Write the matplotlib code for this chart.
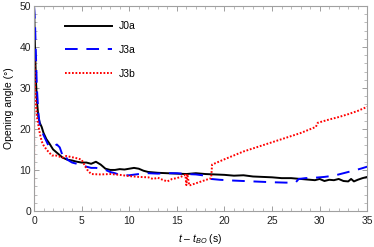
import numpy as np
import matplotlib
matplotlib.use('Agg')
import matplotlib.pyplot as plt
from matplotlib.ticker import MultipleLocator

# J0a (black, solid)
t_j0a = [0, 0.1, 0.2, 0.3, 0.45, 0.6, 0.8, 1.0, 1.3, 1.6,
         2.0, 2.5, 3.0, 3.5, 4.0, 4.5, 5.0, 5.5, 6.0, 6.5,
         7.0, 7.5, 8.0, 8.5, 9.0, 9.5, 10.0, 10.5, 11.0, 11.5,
         12, 13, 14, 15, 16, 17, 18, 19, 20, 21,
         22, 23, 24, 25, 26, 27, 28, 29, 29.5, 30,
         30.5, 31, 31.5, 32, 32.5, 33, 33.3, 33.6, 34, 34.5, 35]
v_j0a = [50, 40, 32, 27, 23, 21.5, 20.5, 19, 17.5, 16.5,
         15, 14, 13, 12.5, 12.3, 12.0, 11.8, 11.8, 11.5, 12.0,
         11.3, 10.3, 10.0, 10.0, 10.2, 10.1, 10.3, 10.5, 10.3, 9.8,
         9.5, 9.3, 9.2, 9.1, 9.0, 9.2, 9.0, 8.9, 8.8, 8.6,
         8.7, 8.4, 8.3, 8.2, 8.0, 8.0, 7.8, 7.6, 7.5, 7.8,
         7.3, 7.6, 7.5, 7.8, 7.3, 7.2, 7.8, 7.2, 7.6, 8.0, 8.3]

# J3a (blue, dashed)
t_j3a = [0, 0.1, 0.2, 0.3, 0.45, 0.6, 0.9, 1.2, 1.5, 1.8,
         2.1, 2.4, 2.7, 3.0, 3.2, 3.5, 4.0, 4.5, 5.0, 5.5,
         6.0, 6.5, 7.0, 7.5, 8.0, 8.5, 9.0, 9.5, 10, 11,
         12, 13, 14, 15, 16, 17, 18, 18.6, 19.5, 21,
         23, 25, 26.5, 27.5, 27.8, 28.5, 29.5, 30.5, 31.5, 32.5,
         33.5, 34.3, 35]
v_j3a = [50, 46, 38, 30, 24, 21, 19, 17.5, 16, 15.5,
         15.8, 16.2, 15.5, 13.5, 14.0, 12.5, 11.8, 11.5, 11.0, 10.8,
         10.5, 10.5, 10.3, 10.0, 9.5, 9.2, 8.8, 8.7, 8.7, 9.0,
         9.2, 9.1, 9.2, 9.2, 9.0, 8.9, 8.6, 7.8, 7.6, 7.4,
         7.2, 7.0, 6.9, 7.0, 7.8, 8.0, 8.1, 8.3, 8.6, 9.2,
         9.8, 10.3, 10.8]

# J3b (red, dotted)
t_j3b = [0, 0.02, 0.1, 0.2, 0.3, 0.45, 0.6, 0.8, 1.0, 1.3,
         1.6, 1.9, 2.2, 2.6, 3.0, 3.4, 3.8, 4.2, 4.6, 5.0,
         5.3, 5.6, 6, 7, 8, 9, 10, 11, 12, 12.5,
         13, 13.5, 14, 14.5, 15, 15.5, 15.9, 16.0, 16.1, 16.3,
         18.6, 18.7, 20, 22, 24, 26, 28, 29.6, 29.8, 31,
         32, 33, 34, 35]
v_j3b = [0, 37, 30, 26, 23, 21, 19, 17, 16, 15,
         14.2, 13.5, 13.6, 13.3, 13.0, 13.4, 13.2, 13.0, 12.8, 12.5,
         11.2, 10.0, 9.0, 8.9, 9.0, 8.8, 8.5, 8.3, 8.2, 7.8,
         8.1, 7.6, 7.2, 7.8, 8.0, 8.4, 8.8, 6.3, 9.0, 6.2,
         8.0, 11.3, 12.6, 14.5, 16.0, 17.5, 19.0, 20.5, 21.5, 22.3,
         22.9, 23.6, 24.4, 25.4]

plt.rcParams['font.family'] = ['Liberation Sans', 'DejaVu Sans']
plt.rcParams['mathtext.fontset'] = 'custom'
plt.rcParams['mathtext.it'] = 'Liberation Sans:italic'
plt.rcParams['mathtext.rm'] = 'Liberation Sans'

fig = plt.figure(figsize=(3.74, 2.47), dpi=100)
ax = fig.add_axes([0.091, 0.146, 0.891, 0.830])

ax.plot(t_j0a, v_j0a, color='black', lw=1.4, label='J0a')
ax.plot(t_j3a, v_j3a, color='#0000ff', lw=1.4, dashes=(6.5, 4.5), label='J3a')
ax.plot(t_j3b, v_j3b, color='#ff0000', lw=1.4, dashes=(0.9, 0.9), label='J3b')

ax.set_xlim(0, 35)
ax.set_ylim(0, 50)
ax.xaxis.set_major_locator(MultipleLocator(5))
ax.xaxis.set_minor_locator(MultipleLocator(1))
ax.yaxis.set_major_locator(MultipleLocator(10))
ax.yaxis.set_minor_locator(MultipleLocator(2))

gray = '#a0a0a0'
for s in ax.spines.values():
    s.set_color(gray)
    s.set_linewidth(0.8)
ax.tick_params(which='both', direction='in', top=True, right=True,
               color=gray, labelsize=7.5, labelcolor='#222222')
ax.tick_params(axis='x', pad=3.5)
ax.tick_params(axis='y', pad=2)
ax.tick_params(which='major', length=3.5, width=0.7)
ax.tick_params(which='minor', length=2, width=0.5)

ax.set_xlabel(r'$t$ – $t_{BO}$ (s)', fontsize=7.5, labelpad=4.5)
ax.set_ylabel('Opening angle (°)', fontsize=7.5, labelpad=4)

ax.legend(loc='upper left', bbox_to_anchor=(0.066, 0.97), frameon=False,
          fontsize=7.5, handlelength=4.5, handletextpad=0.6,
          labelspacing=1.3)

fig.savefig('out.png', dpi=100)
